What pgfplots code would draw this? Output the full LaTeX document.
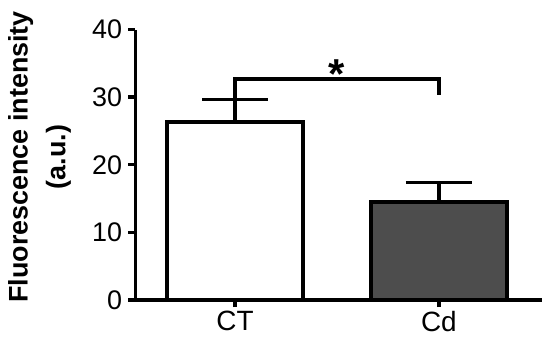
\documentclass[border=0pt]{standalone}
\usepackage{fontspec}
\setmainfont{Liberation Sans}
\usepackage{pgfplots}
\pgfplotsset{compat=1.18}
\definecolor{cdgray}{RGB}{77,77,77}
\begin{document}
\begin{tikzpicture}
\begin{axis}[
 scale only axis,
 width=406bp, height=270.5bp,
 xmin=-0.488, xmax=1.503,
 ymin=0, ymax=40,
 axis x line=bottom, axis y line=left,
 axis line style={line width=3.3bp, -},
 xtick={0,1}, xticklabels={CT,Cd},
 ytick={0,10,20,30,40},
 tick style={line width=3.3bp, black},
 major tick length=7bp,
 tick align=outside,
 xticklabel style={font=\fontsize{28}{28}\selectfont, yshift=-1bp},
 yticklabel style={font=\fontsize{27}{27}\selectfont, xshift=-3bp},
 /pgf/number format/assume math mode=true,
 ylabel={Fluorescence intensity\\(a.u.)},
 ylabel style={font=\bfseries\fontsize{27}{38}\selectfont, align=center,
   at={(axis description cs:-0.15,0.529)}, anchor=south, rotate=0},
 clip=false,
]
\addplot[ybar, bar width=0.667, bar shift=0, fill=white, draw=black, line width=3.3bp,
  error bars/.cd, y dir=plus, y explicit,
  error bar style={line width=3.3bp, black},
  error mark options={rotate=90, mark size=33bp, line width=3.3bp, black}]
  coordinates {(0,26.3) +- (0,3.4)};
\addplot[ybar, bar width=0.667, bar shift=0, fill=cdgray, draw=black, line width=3.3bp,
  error bars/.cd, y dir=plus, y explicit,
  error bar style={line width=3.3bp, black},
  error mark options={rotate=90, mark size=33bp, line width=3.3bp, black}]
  coordinates {(1,14.5) +- (0,2.9)};
\addplot[sharp plot, no marks, line width=3.3bp, black]
  coordinates {(0,29.7) (0,32.7) (1,32.7) (1,30.3)};
\node[font=\bfseries\fontsize{42}{42}\selectfont, anchor=base] at (axis cs:0.5,31.3) {*};
\coordinate (SW) at (rel axis cs:0,0);
\end{axis}
\pgfresetboundingbox
\path[use as bounding box] ([xshift=-135.5bp, yshift=-43bp]SW) rectangle ++(550bp,343bp);
\end{tikzpicture}
\end{document}
